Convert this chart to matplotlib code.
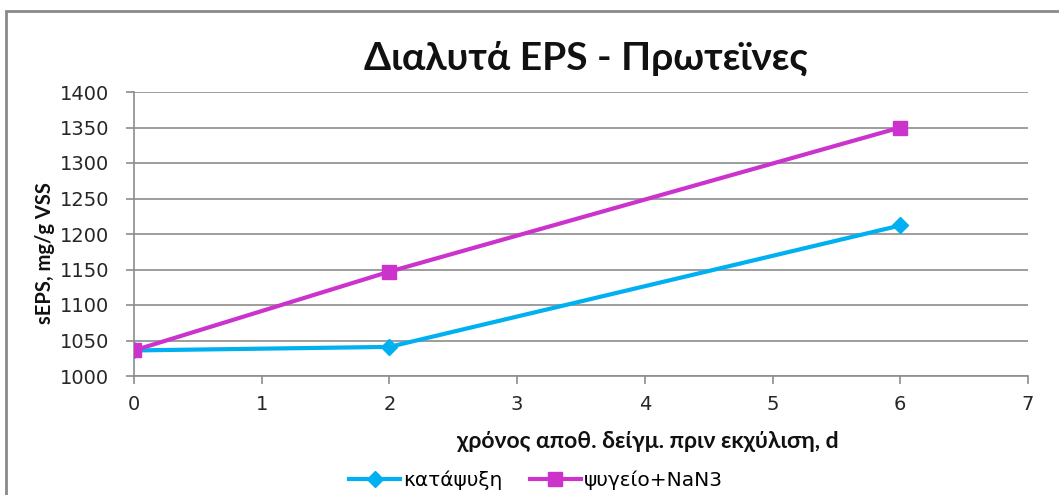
import matplotlib
matplotlib.use('Agg')
import matplotlib.pyplot as plt
import matplotlib.patches as pc

# data
days = [0, 2, 6]
katapsyxi = [1036, 1041, 1212]
psygeio = [1036, 1147, 1350]
series_names = ['κατάψυξη', 'ψυγείο+NaN3']
yticks = list(range(1000, 1401, 50))
xticks = list(range(0, 8))

fig = plt.figure(figsize=(10.59, 4.95), dpi=100)
ax = fig.add_axes([134 / 1059, 1 - 376 / 495, (1028 - 134) / 1059, (376 - 92) / 495])

grey = '#8c8c8c'
ax.plot(days, katapsyxi, color='#00B0F0', lw=3, marker='D', ms=8,
        label=series_names[0], zorder=3)
ax.plot(days, psygeio, color='#CC33CC', lw=3, marker='s', ms=10,
        label=series_names[1], zorder=3)

ax.set_xlim(0, 7)
ax.set_ylim(1000, 1400)
ax.set_xticks(xticks)
ax.set_yticks(yticks)
ax.yaxis.grid(True, color=grey, lw=1.2)
ax.set_axisbelow(True)
for s in ['top', 'right']:
    ax.spines[s].set_visible(False)
for s in ['left', 'bottom']:
    ax.spines[s].set_color(grey)
    ax.spines[s].set_linewidth(1.2)
ax.tick_params(axis='both', colors=grey, length=6, width=1.2, labelcolor='#262626',
               labelsize=14)
ax.tick_params(axis='x', pad=8)
ax.tick_params(axis='y', pad=12)
for lab in ax.get_xticklabels() + ax.get_yticklabels():
    lab.set_family('DejaVu Sans')

fig.text(586 / 1059, 1 - 58 / 495, 'Διαλυτά EPS - Πρωτεϊνες', ha='center', va='center',
         fontsize=28, family='Lato', weight='bold', color='#111111')
fig.text(45 / 1059, 1 - 253 / 495, 'sEPS, mg/g VSS', ha='center', va='center',
         rotation=90, fontsize=14.5, family='Lato', weight='bold', color='#111111')
fig.text(648 / 1059, 1 - 441 / 495, 'χρόνος αποθ. δείγμ. πριν εκχύλιση, d', ha='center',
         va='center', fontsize=16.5, family='Lato', weight='bold', color='#111111')

fig.legend(loc='center', bbox_to_anchor=(536 / 1059, 1 - 480 / 495), ncol=2, frameon=False,
           prop={'family': 'DejaVu Sans', 'size': 14.5}, handlelength=2.5,
           handletextpad=0.15, columnspacing=1.4)

# outer frame of the chart
fig.patches.append(pc.Rectangle((6 / 1059, -0.05), 1.1, 1 - 11 / 495 + 0.05,
                                transform=fig.transFigure, fill=False,
                                edgecolor='#8a8a8a', lw=2))

fig.savefig('out.png', dpi=100)
